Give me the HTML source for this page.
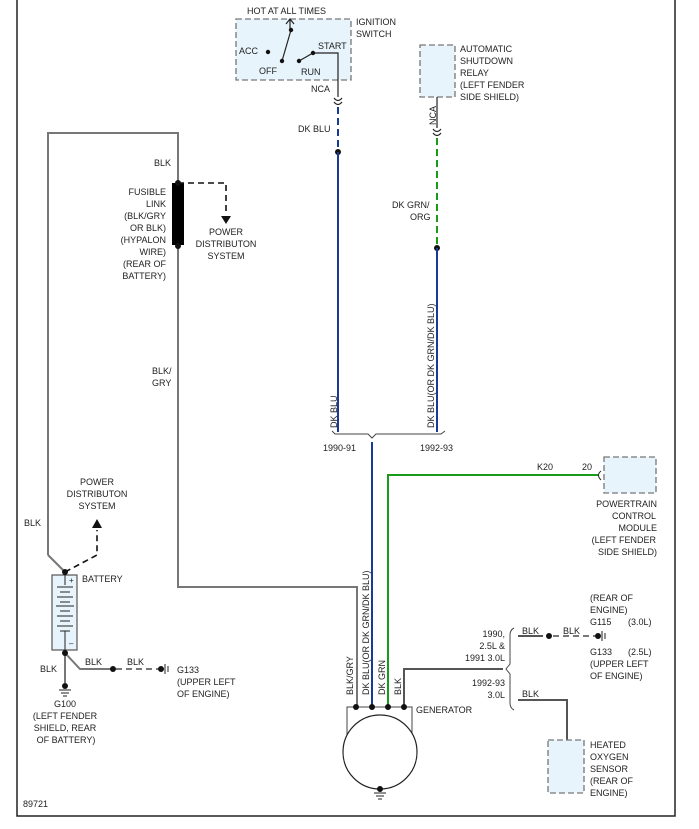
<!DOCTYPE html>
<html><head><meta charset="utf-8"><style>body{margin:0;background:#fff}svg{display:block}text{font-family:"Liberation Sans",sans-serif;font-size:9px;fill:#222}</style></head><body>
<svg width="699" height="829" viewBox="0 0 699 829">
<g fill="none" stroke="#222" stroke-width="1.5">
<path d="M17 0V816H675V0"/>
</g>
<rect x="236" y="19" width="115" height="61" fill="#e8f4fc" stroke="#777" stroke-width="1.3" stroke-dasharray="6,3"/>
<text x="247" y="14">HOT AT ALL TIMES</text>
<text x="356" y="25">IGNITION</text><text x="356" y="37">SWITCH</text>
<g stroke="#222" stroke-width="1.2" fill="none">
<path d="M290 30V20M286 24L290 19L294 24"/>
<path d="M291 30L282 61"/>
<path d="M299 61L313 53H338V97"/>
<path d="M334 98Q338 103 342 98M334 102Q338 107 342 102"/>
</g>
<g fill="#111"><circle cx="268" cy="52" r="2.2"/><circle cx="291" cy="30" r="2.2"/><circle cx="282" cy="61" r="2.2"/><circle cx="299" cy="61" r="2.2"/><circle cx="313" cy="53" r="2.2"/></g>
<text x="239" y="54">ACC</text><text x="259" y="74">OFF</text><text x="301" y="75">RUN</text><text x="318" y="49">START</text>
<text x="311" y="92">NCA</text>
<path d="M338 107V150" stroke="#1a3a9a" stroke-width="2" stroke-dasharray="7,4"/>
<circle cx="338" cy="152" r="3" fill="#111"/>
<path d="M338 152V432" stroke="#1a3a9a" stroke-width="2"/>
<text x="298" y="132">DK BLU</text>
<text transform="translate(337,428) rotate(-90)">DK BLU</text>
<rect x="420" y="45" width="35" height="52" fill="#e8f4fc" stroke="#777" stroke-width="1.3" stroke-dasharray="6,3"/>
<text x="460" y="52">AUTOMATIC</text><text x="460" y="64">SHUTDOWN</text><text x="460" y="76">RELAY</text><text x="460" y="88">(LEFT FENDER</text><text x="460" y="100">SIDE SHIELD)</text>
<text transform="translate(436,125) rotate(-90)">NCA</text>
<g stroke="#222" stroke-width="1.2" fill="none"><path d="M437 97V128"/><path d="M433 129Q437 134 441 129M433 133Q437 138 441 133"/></g>
<path d="M437 138V246" stroke="#1a9a1a" stroke-width="2" stroke-dasharray="7,4"/>
<circle cx="437" cy="248" r="3" fill="#111"/>
<path d="M437 248V432" stroke="#1a3a9a" stroke-width="2"/>
<text x="392" y="208">DK GRN/</text><text x="410" y="220">ORG</text>
<text transform="translate(434,428) rotate(-90)">DK BLU(OR DK GRN/DK BLU)</text>
<path d="M332 431L335 434H368L372 438L376 434H441L445 431" fill="none" stroke="#444" stroke-width="1"/>
<text x="323" y="451">1990-91</text><text x="420" y="451">1992-93</text>
<path d="M372 442V707" stroke="#1a3a9a" stroke-width="2"/>
<path d="M388 707V475H598" stroke="#1a9a1a" stroke-width="2" fill="none"/>
<path d="M601 471Q596 475 601 480" stroke="#222" fill="none"/>
<text x="537" y="470">K20</text><text x="582" y="470">20</text>
<rect x="604" y="457" width="52" height="36" fill="#e8f4fc" stroke="#777" stroke-width="1.3" stroke-dasharray="6,3"/>
<g text-anchor="end"><text x="657" y="507">POWERTRAIN</text><text x="656" y="519">CONTROL</text><text x="657" y="531">MODULE</text><text x="656" y="543">(LEFT FENDER</text><text x="657" y="555">SIDE SHIELD)</text></g>
<g stroke="#777" stroke-width="2" fill="none">
<path d="M48 555V133H178V183"/>
<path d="M178 245V587H357V707"/>
<path d="M48 555L65 572"/>
<path d="M65 653V683M65 653L80 669H113"/>
</g>
<rect x="172" y="183" width="12" height="62" fill="#000"/>
<circle cx="178" cy="183" r="3" fill="#111"/><circle cx="178" cy="246" r="3" fill="#111"/>
<path d="M178 183H226V215" stroke="#111" stroke-width="1.6" stroke-dasharray="6,4" fill="none"/>
<path d="M221 216H231L226 224Z" fill="#111"/>
<g text-anchor="middle"><text x="226" y="235">POWER</text><text x="226" y="247">DISTRIBUTON</text><text x="226" y="259">SYSTEM</text></g>
<text x="154" y="166">BLK</text>
<g text-anchor="end"><text x="166" y="195">FUSIBLE</text><text x="166" y="207">LINK</text><text x="166" y="219">(BLK/GRY</text><text x="166" y="231">OR BLK)</text><text x="166" y="243">(HYPALON</text><text x="166" y="255">WIRE)</text><text x="166" y="267">(REAR OF</text><text x="166" y="279">BATTERY)</text></g>
<text x="152" y="374">BLK/</text><text x="152" y="386">GRY</text>
<text x="24" y="526">BLK</text>
<rect x="52" y="575" width="25" height="75" fill="#e8f4fc" stroke="#555" stroke-width="1.2"/>
<g stroke="#222" stroke-width="1"><path d="M65 575V585M57 587H73M60 592H70M57 597H73M60 602H70M56 606H74M60 611H70M57 616H73M60 621H70M57 626H73M60 631H70M65 631V650"/></g>
<text x="69" y="583" style="font-size:8px">+</text><text x="69" y="646" style="font-size:8px">–</text>
<circle cx="65" cy="572" r="3" fill="#111"/><circle cx="65" cy="653" r="3" fill="#111"/>
<path d="M65 572L97 555V530" stroke="#111" stroke-width="1.6" stroke-dasharray="6,4" fill="none"/>
<path d="M92 528H102L97 519Z" fill="#111"/>
<g text-anchor="middle"><text x="97" y="485">POWER</text><text x="97" y="497">DISTRIBUTON</text><text x="97" y="509">SYSTEM</text></g>
<text x="82" y="582">BATTERY</text>
<text x="40" y="672">BLK</text><text x="85" y="665">BLK</text><text x="127" y="665">BLK</text>
<circle cx="65" cy="686" r="3" fill="#111"/><path d="M59 690H71M61 693H69M63 696H67" stroke="#222"/>
<circle cx="113" cy="669" r="3" fill="#111"/>
<path d="M116 669H158" stroke="#777" stroke-width="2" stroke-dasharray="6,4"/>
<circle cx="161" cy="669" r="3" fill="#111"/><path d="M165 664V674M168 666V672" stroke="#222"/>
<text x="177" y="673">G133</text><text x="177" y="685">(UPPER LEFT</text><text x="177" y="697">OF ENGINE)</text>
<g text-anchor="middle"><text x="65" y="707">G100</text><text x="65" y="719">(LEFT FENDER</text><text x="65" y="731">SHIELD, REAR</text><text x="66" y="743">OF BATTERY)</text></g>
<text x="23" y="807">89721</text>
<path d="M347 737V707H412V737" stroke="#444" stroke-width="1" fill="none"/>
<circle cx="380" cy="752" r="37" fill="#fff" stroke="#222" stroke-width="1.2"/>
<circle cx="380" cy="789" r="3" fill="#111"/><path d="M374 793H386M376 796H384M378 799H382" stroke="#222"/>
<path d="M404 707V669H503" stroke="#555" stroke-width="2" fill="none"/>
<g fill="#111"><circle cx="356" cy="707" r="3"/><circle cx="372" cy="707" r="3"/><circle cx="388" cy="707" r="3"/><circle cx="404" cy="707" r="3"/></g>
<text transform="translate(353,695) rotate(-90)">BLK/GRY</text>
<text transform="translate(369,695) rotate(-90)">DK BLU(OR DK GRN/DK BLU)</text>
<text transform="translate(385,695) rotate(-90)">DK GRN</text>
<text transform="translate(401,695) rotate(-90)">BLK</text>
<text x="416" y="713">GENERATOR</text>
<path d="M514 628Q510 630 510 635V664L506 669L510 674V703Q510 708 514 710" stroke="#444" fill="none"/>
<g text-anchor="end"><text x="505" y="637">1990,</text><text x="505" y="649">2.5L &amp;</text><text x="505" y="661">1991 3.0L</text><text x="505" y="686">1992-93</text><text x="505" y="698">3.0L</text></g>
<path d="M518 636H543" stroke="#555" stroke-width="2"/><circle cx="549" cy="636" r="3" fill="#111"/>
<path d="M553 636H595" stroke="#777" stroke-width="2" stroke-dasharray="6,4"/>
<circle cx="598" cy="636" r="3" fill="#111"/><path d="M602 631V641M605 633V639" stroke="#222"/>
<text x="522" y="634">BLK</text><text x="563" y="634">BLK</text>
<text x="590" y="601">(REAR OF</text><text x="590" y="613">ENGINE)</text><text x="590" y="625">G115</text><text x="628" y="625">(3.0L)</text>
<text x="590" y="655">G133</text><text x="628" y="655">(2.5L)</text><text x="590" y="667">(UPPER LEFT</text><text x="590" y="679">OF ENGINE)</text>
<path d="M518 700H567V740" stroke="#555" stroke-width="2" fill="none"/>
<text x="522" y="697">BLK</text>
<rect x="548" y="740" width="36" height="53" fill="#e8f4fc" stroke="#777" stroke-width="1.3" stroke-dasharray="6,3"/>
<text x="590" y="748">HEATED</text><text x="590" y="760">OXYGEN</text><text x="590" y="772">SENSOR</text><text x="590" y="784">(REAR OF</text><text x="590" y="796">ENGINE)</text>
</svg>
</body></html>
